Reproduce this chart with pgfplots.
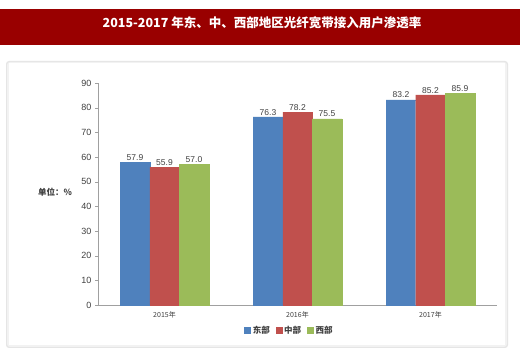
\documentclass[border=0pt]{standalone}
\usepackage{pgfplots}
\pgfplotsset{compat=1.18}
\usepackage{fontspec}
\setmainfont{Liberation Sans}
\newfontfamily\cjk{Noto Sans CJK SC}
\definecolor{titlered}{HTML}{990000}
\definecolor{cblue}{HTML}{4F81BD}
\definecolor{cred}{HTML}{C0504D}
\definecolor{cgreen}{HTML}{9BBB59}
\definecolor{axgray}{HTML}{A0A0A0}
\definecolor{txtgray}{HTML}{404040}
\begin{document}
\begin{tikzpicture}[x=1pt,y=1pt]
\fill[white] (0,0) rectangle (520,353);
\useasboundingbox (0,0) rectangle (520,353);
% title bar
\fill[titlered] (0,308) rectangle (520,344);
\node[white,font=\cjk\bfseries\fontsize{12.5}{14}\selectfont] at (262,330) {2015-2017 年东、中、西部地区光纤宽带接入用户渗透率};
% panel with shadow
\fill[black!10,rounded corners=3pt] (6,5) rectangle (508,292);
\fill[black!5,rounded corners=3pt] (7,6) rectangle (507,291);
\fill[white] (9,8) rectangle (505,290);
% unit label
\node[txtgray,font=\cjk\bfseries\fontsize{8.5}{9}\selectfont] at (55,161) {单位：\%};
\begin{axis}[
  at={(98pt,48pt)}, anchor=south west,
  scale only axis, width=399pt, height=222pt,
  ymin=0, ymax=90, ytick={0,10,...,90},
  xmin=-0.5, xmax=2.5,
  xtick={0,1,2}, xticklabels={2015年,2016年,2017年},
  extra x ticks={0.5,1.5}, extra x tick labels={},
  extra x tick style={major tick length=3pt, tick style={axgray}},
  x tick label style={font=\cjk\fontsize{7}{8}\selectfont, text=txtgray},
  y tick label style={font=\fontsize{9}{10}\selectfont, text=txtgray},
  /pgf/number format/assume math mode=true,
  axis x line*=bottom, axis y line*=left,
  axis line style={axgray},
  major tick length=3pt,
  tick style={axgray},
  xtick style={draw=none},
  tick align=outside,
  ybar=0pt, bar width=29.5pt,
  nodes near coords={\pgfmathprintnumber[fixed,fixed zerofill,precision=1]{\pgfplotspointmeta}},
  every node near coord/.append style={font=\fontsize{8.5}{9}\selectfont, text=txtgray, inner sep=1.5pt},
  legend style={at={(0.48,-0.075)}, anchor=north, draw=none, fill=none, legend columns=3,
    font=\cjk\bfseries\fontsize{8.5}{9}\selectfont, text=txtgray,
    /tikz/every even column/.append style={column sep=4pt}},
  legend image code/.code={\fill[#1] (0pt,-3pt) rectangle (6pt,3pt);},
  clip=false,
]
\addplot[fill=cblue, draw=cblue] coordinates {(0,57.9) (1,76.3) (2,83.2)};
\addplot[fill=cred, draw=cred] coordinates {(0,55.9) (1,78.2) (2,85.2)};
\addplot[fill=cgreen, draw=cgreen] coordinates {(0,57.0) (1,75.5) (2,85.9)};
\legend{东部,中部,西部}
\end{axis}
\end{tikzpicture}
\end{document}
